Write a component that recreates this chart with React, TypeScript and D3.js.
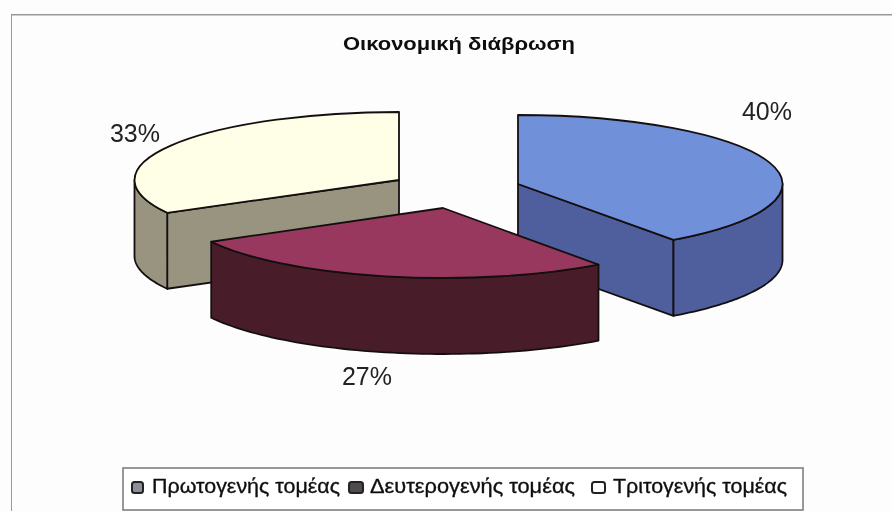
import React from "react";
import * as d3 from "d3";

const title = "Οικονομική διάβρωση";
const categories = ["Πρωτογενής τομέας", "Δευτερογενής τομέας", "Τριτογενής τομέας"];
const values = [40, 27, 33];
const labels = ["40%", "27%", "33%"];
const topColors = ["#7090DA", "#98395F", "#FFFFE8"];
const sideColors = ["#4F5F9E", "#4A1F29", "#98947F"];
const legendColors = ["#8a8f98", "#4f4b4f", "#ffffff"];
const centers: [number, number][] = [[518, 184], [443, 208], [399, 180]];
const flatRadii = [69, 70, 68];
const labelPos: [number, number][] = [[767, 120], [367, 385], [135, 142]];
const legendSwatchX = [132, 349, 592];
const legendSwatchW = [11, 14, 13];
const legendTextX = [152, 370, 613];
const legendTextW = [188, 205, 174];

const RX = 264.5, DEPTH = 76;
const INK = "#141011";

export default function App() {
  const arcs = d3.pie<number>().sort(null)(values);
  const pt = (i: number, a: number, dy = 0): [number, number] => [
    centers[i][0] + RX * Math.sin(a),
    centers[i][1] - flatRadii[i] * Math.cos(a) + dy,
  ];
  const line = d3.line();
  const top = d3.arc<any>().innerRadius(0).outerRadius(1);
  const order = [2, 0, 1];

  const rim = (i: number, a0: number, a1: number) => {
    const n = 60;
    const sc = d3.scaleLinear().domain([0, n]).range([a0, a1]);
    const upper = d3.range(n + 1).map((k) => pt(i, sc(k)));
    const lower = d3.range(n + 1).map((k) => pt(i, sc(k), DEPTH)).reverse();
    return line([...upper, ...lower]) + "Z";
  };
  const cut = (i: number, a: number) => {
    const c = centers[i];
    return line([[c[0], c[1]], pt(i, a), pt(i, a, DEPTH), [c[0], c[1] + DEPTH]]) + "Z";
  };

  return (
    <svg width={892} height={511} style={{ position: "absolute", left: 0, top: 0, background: "#fdfdfd" }}
      fontFamily="'Liberation Sans', Arial, sans-serif">
      <defs>
        <filter id="scan" x="0" y="0" width="100%" height="100%">
          <feGaussianBlur stdDeviation="0.55" />
        </filter>
      </defs>
      <g filter="url(#scan)">
        <path d="M892,14.5 H11 V511" fill="none" stroke="#999" strokeWidth={2} />
        <text x={343} y={50} fontSize={19} fontWeight="bold" fill="#111" textLength={232} lengthAdjust="spacingAndGlyphs">{title}</text>

        {order.map((i) => {
          const d = arcs[i];
          const c = centers[i];
          return (
            <g key={i} stroke={INK} strokeWidth={1.8} strokeLinejoin="round">
              {i === 0 && <path d={cut(i, d.endAngle)} fill={sideColors[i]} />}
              {i === 2 && <path d={cut(i, d.startAngle)} fill={sideColors[i]} />}
              {i === 0 && <path d={rim(i, Math.PI / 2, d.endAngle)} fill={sideColors[i]} />}
              {i === 1 && <path d={rim(i, d.startAngle, d.endAngle)} fill={sideColors[i]} />}
              {i === 2 && <path d={rim(i, d.startAngle, (3 * Math.PI) / 2)} fill={sideColors[i]} />}
              <path
                d={top(d) as string}
                transform={`translate(${c[0]},${c[1]}) scale(${RX},${flatRadii[i]})`}
                fill={topColors[i]}
                vectorEffect="non-scaling-stroke"
              />
            </g>
          );
        })}

        {labels.map((t, i) => (
          <text key={t} x={labelPos[i][0]} y={labelPos[i][1]} textAnchor="middle" fontSize={25} fill="#222">{t}</text>
        ))}

        <rect x={123} y={468} width={680} height={42} fill="#fff" stroke="#777" strokeWidth={1.5} />
        {categories.map((t, i) => (
          <g key={t}>
            <rect x={legendSwatchX[i]} y={482} width={legendSwatchW[i]} height={11} rx={2.5} fill={legendColors[i]} stroke="#222" strokeWidth={2} />
            <text x={legendTextX[i]} y={493} fontSize={21} fill="#111" stroke="#111" strokeWidth={0.35} textLength={legendTextW[i]} lengthAdjust="spacingAndGlyphs">{t}</text>
          </g>
        ))}
      </g>
    </svg>
  );
}
